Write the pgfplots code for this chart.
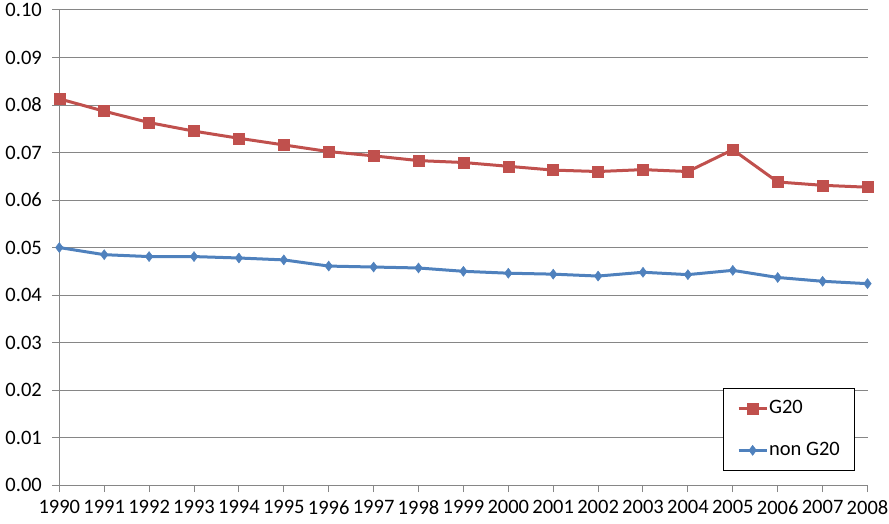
\documentclass[border=0pt]{standalone}
\usepackage{fontspec}
\setmainfont{Carlito}
\usepackage{pgfplots}
\pgfplotsset{compat=1.18}

\definecolor{gtwenty}{HTML}{C0504D}
\definecolor{nongtwenty}{HTML}{4F81BD}
\definecolor{gridgray}{HTML}{868686}

\begin{document}
\begin{tikzpicture}
\begin{axis}[
    scale only axis,
    width=808pt,
    height=475pt,
    xmin=1990, xmax=2008,
    ymin=0, ymax=0.10,
    xtick={1990,1991,...,2008},
    ytick={0,0.01,...,0.10},
    axis x line*=bottom,
    axis y line*=left,
    axis line style={gridgray, line width=1pt},
    tick align=outside,
    major tick length=7pt,
    tick style={gridgray, line width=1pt},
    ymajorgrids,
    grid style={gridgray, line width=1pt},
    /pgf/number format/assume math mode=true,
    xticklabel style={/pgf/number format/set thousands separator={},
        /pgf/number format/fixed, font=\fontsize{20.5}{24}\selectfont, yshift=-5pt},
    yticklabel style={/pgf/number format/fixed, /pgf/number format/fixed zerofill,
        /pgf/number format/precision=2, font=\fontsize{20.5}{24}\selectfont, xshift=-7pt},
    legend style={
        at={(0.985,0.03)}, anchor=south east,
        draw=black, line width=1pt, fill=white,
        font=\fontsize{20.5}{24}\selectfont,
        inner xsep=14pt, inner ysep=11pt,
        row sep=24pt,
        nodes={text height=13pt, text depth=3pt, inner sep=1pt},
    },
    legend cell align=left,
    legend image code/.code={
        \draw[mark repeat=2, mark phase=2] plot coordinates {(0pt,0pt) (14pt,0pt) (28pt,0pt)};
    },
]

\addplot[color=gtwenty, line width=3pt, mark=square*, mark size=5.5pt,
    mark options={solid, line width=0.5pt}] coordinates {
    (1990,0.0813) (1991,0.0787) (1992,0.0763) (1993,0.0745) (1994,0.0730)
    (1995,0.0716) (1996,0.0702) (1997,0.0693) (1998,0.0683) (1999,0.0679)
    (2000,0.0671) (2001,0.0663) (2002,0.0660) (2003,0.0664) (2004,0.0660)
    (2005,0.0706) (2006,0.0638) (2007,0.0631) (2008,0.0627)
};
\addlegendentry{G20}

\addplot[color=nongtwenty, line width=3pt, mark=diamond*, mark size=5pt,
    mark options={solid, line width=0.5pt}] coordinates {
    (1990,0.0500) (1991,0.0485) (1992,0.0481) (1993,0.0481) (1994,0.0478)
    (1995,0.0474) (1996,0.0461) (1997,0.0459) (1998,0.0457) (1999,0.0450)
    (2000,0.0446) (2001,0.0444) (2002,0.0440) (2003,0.0448) (2004,0.0443)
    (2005,0.0452) (2006,0.0437) (2007,0.0429) (2008,0.0424)
};
\addlegendentry{non G20}

\end{axis}
\pgfresetboundingbox
\path[use as bounding box] ([shift={(-59.3pt,-38.7pt)}]current axis.south west)
    rectangle ([shift={(21.5pt,10pt)}]current axis.north east);
\end{tikzpicture}
\end{document}
